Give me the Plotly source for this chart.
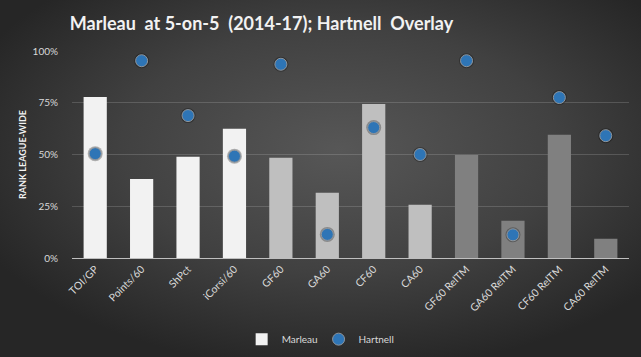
import base64
import plotly.graph_objects as go

categories = ["TOI/GP", "Points/60", "ShPct", "iCorsi/60", "GF60", "GA60", "CF60", "CA60",
              "GF60 RelTM", "GA60 RelTM", "CF60 RelTM", "CA60 RelTM"]
marleau = [0.778, 0.382, 0.489, 0.624, 0.484, 0.315, 0.744, 0.257, 0.498, 0.180, 0.595, 0.093]
hartnell = [0.504, 0.953, 0.688, 0.492, 0.936, 0.114, 0.630, 0.500, 0.953, 0.112, 0.775, 0.591]
bar_colors = ["#F2F2F2"] * 4 + ["#BFBFBF"] * 4 + ["#808080"] * 4
y_ticks = [0, 0.25, 0.5, 0.75, 1.0]
y_tick_labels = ["0%", "25%", "50%", "75%", "100%"]

W, H = 641, 357
L, R, T, B = 72, 12, 51, 99
pw, ph = W - L - R, H - T - B

svg = f'''<svg xmlns="http://www.w3.org/2000/svg" width="{W}" height="{H}" viewBox="0 0 {W} {H}" preserveAspectRatio="none">
<defs><radialGradient id="g" cx="0.53" cy="0.42" r="0.62" gradientUnits="objectBoundingBox">
<stop offset="0" stop-color="#575757"/><stop offset="0.55" stop-color="#414141"/><stop offset="1" stop-color="#262626"/>
</radialGradient></defs><rect width="{W}" height="{H}" fill="url(#g)"/></svg>'''
src = "data:image/svg+xml;base64," + base64.b64encode(svg.encode()).decode()

fig = go.Figure()
fig.add_trace(go.Bar(x=categories, y=marleau, name="Marleau", legend="legend",
                     marker=dict(color=bar_colors, line=dict(width=0))))
fig.add_trace(go.Scatter(x=categories, y=hartnell, mode="markers", showlegend=False,
                         hoverinfo="skip",
                         marker=dict(size=15, color="rgba(0,0,0,0.28)", line=dict(width=0))))
fig.add_trace(go.Scatter(x=categories, y=hartnell, mode="markers", name="Hartnell",
                         legend="legend2",
                         marker=dict(size=12, color="#2E75B6",
                                     line=dict(width=1, color="#8E959C"))))

legend_style = dict(orientation="h", xref="container", xanchor="left",
                    y=0.05, yref="container", yanchor="middle",
                    font=dict(size=10, color="#D9D9D9"), bgcolor="rgba(0,0,0,0)",
                    itemwidth=30)

fig.update_layout(
    width=W, height=H,
    margin=dict(l=L, r=R, t=T, b=B, pad=0, autoexpand=False),
    paper_bgcolor="#333333",
    plot_bgcolor="rgba(0,0,0,0)",
    bargap=0.5,
    font=dict(family="Lato", color="#D9D9D9", size=10),
    title=dict(text="<b>Marleau  at 5-on-5  (2014-17); Hartnell  Overlay</b>",
               x=0.408, xref="container", xanchor="center",
               y=0.935, yref="container", yanchor="middle",
               font=dict(family="Lato", size=18, color="#F2F2F2")),
    images=[dict(source=src, xref="paper", yref="paper",
                 x=-L / pw, y=1 + T / ph, sizex=W / pw, sizey=H / ph,
                 xanchor="left", yanchor="top", sizing="stretch", layer="below")],
    legend=dict(x=0.377, **legend_style),
    legend2=dict(x=0.497, **legend_style),
    showlegend=True,
)
fig.update_xaxes(tickangle=-45, tickfont=dict(size=10.5, color="#D9D9D9"),
                 showline=True, linecolor="#BFBFBF", linewidth=1, automargin=False,
                 showgrid=False, ticks="", range=[-0.5, 11.5])
fig.update_yaxes(range=[0, 1.0], tickvals=y_ticks, ticktext=y_tick_labels,
                 tickfont=dict(size=10, color="#D9D9D9"), automargin=False,
                 showgrid=True, gridcolor="rgba(200,200,200,0.22)", gridwidth=1,
                 zeroline=False, ticks="outside", ticklen=11, tickcolor="rgba(0,0,0,0)",
                 title=dict(text="<b>RANK LEAGUE-WIDE</b>", standoff=4,
                            font=dict(size=9, color="#F2F2F2")))

fig.write_html("out.html", config={"displayModeBar": False},
               post_script="document.body.style.margin='0';")
